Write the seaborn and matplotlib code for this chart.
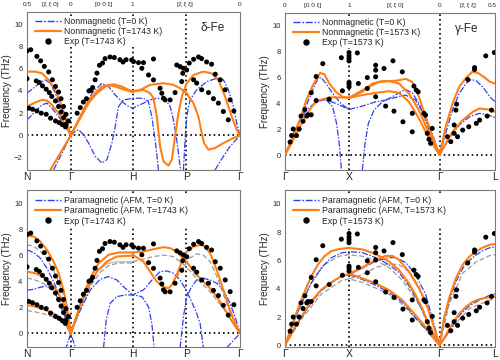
import matplotlib
matplotlib.use("Agg")
import matplotlib.pyplot as plt
from matplotlib.lines import Line2D
import seaborn as sns

# ---------------- path (high-symmetry) positions ----------------
bcc_pos = [0.0, 0.707, 1.707, 2.573, 3.439]
bcc_lab = ["N", "Γ", "H", "P", "Γ"]
bcc_top_pos = [0.0, 0.376, 0.707, 1.236, 1.707, 2.55, 3.439]
bcc_top_lab = ["0.5", "[ξ ξ 0]", "0", "[0 0 ξ]", "1", "[ξ ξ ξ]", "0"]
fcc_pos = [0.0, 1.0, 2.414, 3.28]
fcc_lab = ["Γ", "X", "Γ", "L"]
fcc_top_pos = [0.0, 0.436, 1.0, 1.728, 2.414, 2.855, 3.24]
fcc_top_lab = ["0", "[0 0 ξ]", "1", "[ξ ξ 0]", "0", "[ξ ξ ξ]", "0.5"]

# ---------------- experimental points ----------------
del_exp = [
    (0.0, 7.6), (0.06, 7.7), (0.16, 7.1), (0.22, 6.7), (0.28, 6.2), (0.35, 5.7), (0.41, 5.0),
    (0.46, 4.4), (0.51, 3.9), (0.55, 3.3), (0.59, 2.6), (0.63, 1.9), (0.67, 1.3),
    (0.0, 5.1), (0.15, 4.9), (0.20, 4.75), (0.25, 4.45), (0.31, 4.15), (0.36, 3.85), (0.40, 3.5),
    (0.46, 3.1), (0.51, 2.6), (0.55, 2.1), (0.59, 1.6), (0.63, 1.0),
    (0.03, 2.45), (0.09, 2.35), (0.16, 2.2), (0.23, 2.0), (0.31, 1.9), (0.38, 1.55), (0.46, 1.3),
    (0.52, 1.15), (0.57, 0.97), (0.62, 0.77),
    (0.81, 2.0), (0.86, 2.5), (0.91, 3.0), (0.96, 3.3), (1.00, 4.0), (1.03, 4.05), (1.06, 4.3),
    (1.10, 5.0), (1.13, 5.6), (1.17, 6.3), (1.22, 6.5), (1.26, 6.9), (1.34, 7.05), (1.41, 7.0),
    (1.50, 6.8), (1.55, 6.6), (1.60, 6.8), (1.69, 6.78), (1.72, 6.63),
    (1.80, 6.54), (1.88, 6.54), (1.854, 6.03), (2.042, 6.87), (1.962, 5.43), (2.042, 4.99),
    (2.149, 4.24), (2.177, 3.79), (2.203, 3.34), (2.23, 3.19), (2.311, 3.19), (2.391, 3.85),
    (2.418, 6.33), (2.472, 6.18), (2.499, 4.84), (2.515, 5.58), (2.526, 6.03), (2.579, 5.88),
    (2.62, 6.5), (2.69, 6.84), (2.77, 7.05), (2.82, 6.9), (2.90, 6.6), (2.98, 6.4),
    (3.04, 5.5), (3.12, 5.0), (3.20, 4.1), (3.28, 3.2), (3.34, 2.2),
    (2.69, 5.0), (2.74, 4.7), (2.82, 4.1), (2.93, 3.85), (3.01, 3.3), (3.09, 2.9), (3.17, 2.15),
    (3.25, 1.4),
]
gam_exp = [
    (0.08, 1.0), (0.103, 1.5), (0.128, 2.0), (0.179, 1.5), (0.221, 2.0), (0.25, 3.0), (0.282, 2.6),
    (0.31, 3.5), (0.34, 3.0), (0.36, 3.1), (0.41, 4.8), (0.41, 3.1), (0.487, 6.05), (0.487, 4.2),
    (0.59, 7.04), (0.69, 4.3), (0.88, 7.5), (0.897, 4.95), (1.0, 7.9), (1.0, 7.65), (1.0, 7.45),
    (1.0, 7.25), (1.0, 5.6), (1.0, 5.45), (1.0, 5.25), (1.13, 7.87), (1.146, 5.51), (1.286, 5.97),
    (1.286, 5.13), (1.416, 6.92), (1.416, 6.54), (1.416, 6.03), (1.416, 4.49), (1.546, 6.67),
    (1.572, 3.77), (1.686, 7.26), (1.702, 3.38), (1.832, 6.41), (1.842, 2.56), (1.988, 3.21),
    (1.988, 1.79), (2.014, 5.31), (2.05, 5.0), (2.08, 4.87), (2.17, 3.21), (2.196, 3.08),
    (2.222, 1.67), (2.248, 1.21), (2.274, 0.90), (2.30, 2.05), (2.536, 1.41), (2.589, 1.03),
    (2.642, 1.67), (2.642, 2.31), (2.669, 3.46), (2.68, 3.92), (2.695, 1.41), (2.775, 1.92),
    (2.855, 5.82), (2.87, 2.18), (2.961, 6.74), (2.961, 6.59), (2.988, 2.44), (3.04, 2.69),
    (3.136, 7.64), (3.157, 3.0), (3.226, 3.46), (3.27, 7.90),
]

# ---------------- top-left: delta-Fe nonmagnetic ----------------
tl_org_1 = [(0, 5.73), (0.134, 5.73), (0.242, 5.58), (0.349, 4.99), (0.457, 4.09), (0.564, 2.60), (0.645, 1.25), (0.707, 0)]
tl_org_2 = [(0, 2.6), (0.134, 2.96), (0.242, 3.19), (0.322, 3.13), (0.403, 2.75), (0.51, 2.0), (0.618, 0.96), (0.707, 0)]
tl_org_3 = [(0.376, -3.1), (0.707, 0)]
tl_org_4 = [(0.707, 0), (0.833, 1.40), (0.94, 2.60), (1.048, 3.49), (1.209, 4.39), (1.317, 4.54), (1.424, 4.39), (1.585, 4.09), (1.707, 3.9)]
tl_org_5 = [(0.707, 0), (0.86, 1.55), (0.994, 2.9), (1.128, 3.79), (1.263, 4.39), (1.397, 4.6), (1.531, 4.39), (1.707, 3.94)]
tl_org_6 = [(1.707, 3.94), (1.827, 4.09), (1.988, 4.54), (2.203, 4.69), (2.364, 4.54), (2.472, 4.24), (2.579, 3.79), (2.687, 2.90),
            (2.767, 1.70), (2.821, 0.21), (2.859, -0.69), (2.929, -1.28), (3.036, -1.13), (3.171, -0.69), (3.332, -0.24), (3.439, 0)]
tl_org_7 = [(1.707, 3.94), (1.88, 4.09), (1.988, 3.79), (2.042, 3.34), (2.096, 1.70), (2.149, -0.99), (2.203, -2.33), (2.284, -2.72),
            (2.338, -2.18), (2.391, -0.09), (2.445, 2.0), (2.499, 3.49), (2.579, 4.69), (2.687, 5.43), (2.848, 5.73), (2.982, 5.58),
            (3.090, 4.99), (3.198, 3.49), (3.305, 1.70), (3.386, 0.51), (3.439, 0)]
tl_blu_1 = [(0, 3.79), (0.134, 4.39), (0.242, 4.84), (0.296, 4.99), (0.376, 4.69), (0.457, 3.79), (0.564, 2.30), (0.707, 0)]
tl_blu_2 = [(0, 1.40), (0.134, 2.15), (0.242, 2.75), (0.322, 2.90), (0.403, 2.45), (0.51, 1.70), (0.618, 0.81), (0.707, 0)]
tl_blu_3 = [(0.43, -3.1), (0.707, 0)]
tl_blu_4 = [(0.707, 0), (0.833, 1.40), (0.94, 2.60), (1.048, 3.79), (1.209, 4.69), (1.317, 4.39), (1.424, 3.64), (1.531, 3.04),
            (1.639, 2.60), (1.707, 2.45), (1.88, 2.90), (1.988, 3.19), (2.096, 3.34), (2.203, 3.25), (2.257, 3.04), (2.311, 2.60),
            (2.364, 1.40), (2.418, -0.39), (2.472, -2.78), (2.485, -3.1)]
tl_blu_5 = [(0.707, 0), (0.779, 0.36), (0.833, 0.51), (0.913, 0.06), (0.994, -0.69), (1.102, -1.88), (1.209, -2.48), (1.29, -2.18),
            (1.37, -0.69), (1.424, 0.81), (1.478, 2.60), (1.558, 3.19), (1.719, 3.34), (1.88, 3.34), (1.96, 3.04), (2.015, 1.70),
            (2.069, -0.39), (2.122, -3.1)]
tl_blu_6 = [(2.526, -3.1), (2.552, -0.39), (2.579, 1.70), (2.633, 3.19), (2.74, 4.09), (2.902, 4.84), (3.063, 5.13), (3.171, 4.99),
            (3.251, 4.09), (3.332, 2.60), (3.386, 1.10), (3.439, 0)]
tl_blu_7 = [(3.036, -3.1), (3.171, -1.88), (3.278, -0.99), (3.439, 0)]

# ---------------- top-right: gamma-Fe nonmagnetic ----------------
tr_org_1 = [(0, 0), (0.128, 1.41), (0.231, 2.69), (0.333, 4.23), (0.436, 5.38), (0.549, 6.33), (0.615, 6.23), (0.692, 5.51), (0.795, 4.87), (0.897, 4.49), (1.0, 4.41)]
tr_org_2 = [(0, 0), (0.128, 1.15), (0.231, 2.18), (0.333, 3.08), (0.436, 3.85), (0.538, 4.23), (0.692, 4.44), (0.846, 4.44), (1.0, 4.41)]
tr_org_3 = [(1, 4.41), (1.208, 4.62), (1.416, 4.79), (1.624, 4.92), (1.78, 4.79), (1.936, 4.10), (2.092, 2.82), (2.248, 1.28), (2.414, 0)]
tr_org_4 = [(1, 4.41), (1.208, 4.87), (1.364, 5.51), (1.52, 5.69), (1.728, 5.72), (1.884, 5.87), (1.988, 5.64), (2.092, 4.49), (2.248, 2.18), (2.414, 0)]
tr_org_5 = [(1, 4.41), (1.26, 5.13), (1.468, 5.64), (1.624, 5.69), (1.78, 5.51), (1.936, 4.74), (2.092, 3.46), (2.248, 1.67), (2.414, 0)]
tr_org_6 = [(2.414, 0), (2.51, 2.18), (2.616, 3.97), (2.722, 5.26), (2.828, 5.95), (2.924, 6.41), (3.014, 6.33), (3.12, 5.97), (3.2, 5.64), (3.28, 5.51)]
tr_org_7 = [(2.414, 0), (2.51, 0.9), (2.616, 1.79), (2.775, 2.69), (2.934, 3.33), (3.04, 3.59), (3.173, 3.51), (3.28, 3.33)]
tr_blu_1 = [(0, 0), (0.128, 1.54), (0.282, 3.21), (0.41, 4.74), (0.513, 5.90), (0.564, 5.97), (0.641, 5.51), (0.744, 4.74), (0.872, 3.97), (1.0, 3.51)]
tr_blu_2 = [(0, 0), (0.179, 2.18), (0.333, 3.46), (0.487, 4.10), (0.641, 4.28), (0.795, 3.97), (1.0, 3.51)]
tr_blu_3 = [(0.641, 4.28), (0.744, 3.72), (0.805, 2.44), (0.846, 0.9), (0.882, -1.15)]
tr_blu_4 = [(1.208, -1.15), (1.25, 0.9), (1.302, 2.44), (1.39, 3.46), (1.52, 4.10), (1.676, 4.49), (1.806, 4.87), (1.884, 5.05),
            (1.988, 4.79), (2.092, 3.97), (2.196, 2.69), (2.30, 1.15), (2.414, 0)]
tr_blu_5 = [(1, 3.51), (1.208, 3.77), (1.416, 4.10), (1.572, 4.23), (1.728, 4.44), (1.884, 4.62), (2.04, 4.23), (2.196, 2.95), (2.30, 1.67), (2.414, 0)]
tr_blu_6 = [(2.414, 0), (2.51, 1.67), (2.616, 3.46), (2.722, 4.74), (2.828, 5.51), (2.908, 5.82), (2.987, 5.72), (3.094, 5.21), (3.2, 4.49), (3.28, 4.10)]
tr_blu_7 = [(2.414, 0), (2.563, 1.28), (2.722, 2.31), (2.881, 2.95), (3.04, 3.21), (3.173, 3.08), (3.28, 2.90)]

# ---------------- bottom-left: delta-Fe paramagnetic ----------------
bl_org_1 = [(0, 7.49), (0.107, 7.44), (0.215, 7.05), (0.322, 6.41), (0.43, 5.51), (0.51, 4.62), (0.591, 3.33), (0.645, 2.05), (0.707, 0)]
bl_org_2 = [(0, 4.74), (0.134, 4.62), (0.269, 4.31), (0.403, 3.72), (0.51, 3.08), (0.591, 2.31), (0.661, 1.28), (0.707, 0)]
bl_org_3 = [(0, 2.18), (0.134, 2.05), (0.269, 1.85), (0.403, 1.59), (0.51, 1.28), (0.618, 0.77), (0.707, 0)]
bl_org_4 = [(0.707, 0), (0.833, 1.79), (0.94, 3.33), (1.048, 4.49), (1.155, 5.38), (1.317, 6.03), (1.478, 6.21), (1.707, 6.21)]
bl_org_5 = [(0.707, 0), (0.86, 2.18), (0.994, 3.59), (1.128, 4.74), (1.29, 5.51), (1.451, 5.90), (1.707, 5.97)]
bl_org_6 = [(1.707, 6.21), (1.88, 6.28), (2.042, 6.46), (2.203, 6.62), (2.311, 6.54), (2.418, 6.28), (2.526, 5.77), (2.633, 5.13),
            (2.74, 4.49), (2.848, 3.97), (2.956, 3.46), (3.063, 2.82), (3.171, 2.05), (3.278, 1.15), (3.386, 0.38), (3.439, 0)]
bl_org_7 = [(1.707, 6.03), (1.88, 5.51), (1.988, 4.74), (2.096, 3.97), (2.203, 3.59), (2.284, 3.46), (2.338, 3.72), (2.418, 4.49),
            (2.499, 5.51), (2.579, 6.28), (2.687, 6.67), (2.794, 6.79), (2.875, 6.67), (2.956, 6.15), (3.063, 4.87), (3.171, 3.33),
            (3.278, 1.79), (3.386, 0.51), (3.439, 0)]
bl_blu_1 = [(0, 6.41), (0.107, 6.21), (0.215, 5.77), (0.322, 5.0), (0.43, 3.97), (0.537, 2.69), (0.645, 1.03), (0.707, 0)]
bl_blu_2 = [(0, 3.31), (0.107, 3.38), (0.215, 3.54), (0.322, 3.64), (0.403, 3.46), (0.484, 2.82), (0.591, 1.54), (0.707, 0)]
bl_blu_3 = [(0.618, -1.3), (0.707, 0), (0.795, -1.3)]
bl_blu_4 = [(0.707, 0), (0.86, 1.79), (1.021, 3.33), (1.182, 4.15), (1.317, 4.36), (1.451, 4.10), (1.585, 3.46), (1.707, 2.95),
            (1.88, 3.33), (2.042, 4.23), (2.149, 4.74), (2.257, 4.79), (2.364, 4.62), (2.472, 4.10), (2.552, 3.46), (2.633, 2.69),
            (2.74, 1.54), (2.794, 0.77), (2.848, -1.1)]
bl_blu_5 = [(1.236, -1.1), (1.279, 1.03), (1.343, 2.31), (1.451, 2.82), (1.585, 2.95), (1.719, 2.95), (1.854, 2.82), (1.961, 2.05), (2.015, 0.77), (2.053, -1.1)]
bl_blu_6 = [(2.472, -1.1), (2.526, 1.28), (2.579, 2.82), (2.66, 3.59), (2.74, 4.10), (2.848, 4.23), (2.956, 4.10), (3.063, 3.85),
            (3.171, 3.33), (3.278, 2.31), (3.359, 1.28), (3.439, 0)]
bl_blu_7 = [(3.225, -1.1), (3.439, 0)]
bl_gry_1 = [(0, 6.8), (0.107, 6.7), (0.215, 6.3), (0.322, 5.7), (0.43, 4.8), (0.51, 4.0), (0.591, 2.9), (0.645, 1.8), (0.707, 0)]
bl_gry_2 = [(0, 4.25), (0.134, 4.1), (0.269, 3.8), (0.403, 3.3), (0.51, 2.7), (0.591, 2.0), (0.661, 1.1), (0.707, 0)]
bl_gry_3 = [(0, 1.75), (0.134, 1.65), (0.269, 1.5), (0.403, 1.3), (0.51, 1.05), (0.618, 0.6), (0.707, 0)]
bl_gry_4 = [(0.707, 0), (0.86, 1.9), (1.021, 3.6), (1.182, 4.7), (1.317, 5.2), (1.478, 5.4), (1.707, 5.4)]
bl_gry_5 = [(1.707, 5.5), (1.88, 5.7), (2.042, 5.9), (2.203, 6.0), (2.364, 5.9), (2.526, 5.3), (2.633, 4.8), (2.74, 4.2), (2.956, 3.2), (3.171, 1.9), (3.386, 0.4), (3.439, 0)]
bl_gry_6 = [(2.418, 4.3), (2.526, 5.1), (2.633, 5.8), (2.74, 6.1), (2.848, 6.0), (2.956, 5.5), (3.063, 4.4), (3.171, 3.0), (3.278, 1.6), (3.439, 0)]
bl_lgr_1 = [(0.707, 0), (0.833, 1.6), (0.94, 3.0), (1.048, 4.1), (1.155, 4.9), (1.317, 5.4), (1.478, 5.5), (1.707, 5.5)]

# ---------------- bottom-right: gamma-Fe paramagnetic ----------------
br_org_1 = [(0, 0), (0.103, 1.32), (0.205, 2.62), (0.308, 3.81), (0.41, 4.87), (0.513, 5.70), (0.615, 6.29), (0.718, 6.64), (0.846, 6.81),
            (1.0, 6.88), (1.208, 6.78), (1.416, 6.45), (1.624, 5.92), (1.78, 5.33), (1.936, 4.38), (2.04, 3.55), (2.144, 2.61),
            (2.248, 1.42), (2.352, 0.47), (2.414, 0)]
br_org_2 = [(0, 0), (0.128, 1.09), (0.256, 2.03), (0.41, 3.10), (0.564, 3.92), (0.718, 4.44), (0.872, 4.87), (1.0, 5.06), (1.208, 4.74),
            (1.416, 4.38), (1.624, 3.91), (1.832, 3.20), (2.04, 2.13), (2.196, 1.30), (2.352, 0.36), (2.414, 0)]
br_org_3 = [(1.0, 5.06), (1.208, 5.50), (1.416, 6.04), (1.572, 6.32), (1.676, 6.32), (1.78, 6.04), (1.936, 5.21), (2.092, 4.03), (2.196, 3.08), (2.30, 1.66), (2.414, 0)]
br_org_4 = [(2.414, 0), (2.483, 1.90), (2.563, 3.32), (2.669, 4.74), (2.775, 5.69), (2.881, 6.28), (2.987, 6.64), (3.094, 6.92), (3.20, 7.11), (3.28, 7.15)]
br_org_5 = [(2.414, 0), (2.51, 0.71), (2.616, 1.54), (2.722, 2.25), (2.828, 2.73), (2.934, 3.08), (3.04, 3.27), (3.146, 3.36), (3.28, 3.44)]
br_blu_1 = [(0, 0), (0.128, 1.56), (0.256, 2.98), (0.41, 4.40), (0.564, 5.46), (0.718, 6.17), (0.872, 6.52), (1.0, 6.62), (1.208, 6.55),
            (1.416, 6.2), (1.624, 5.7), (1.78, 5.15), (1.936, 4.2), (2.04, 3.4), (2.144, 2.45), (2.248, 1.3), (2.352, 0.35), (2.414, 0)]
br_blu_2 = [(0, 0), (0.128, 1.0), (0.256, 1.95), (0.41, 3.0), (0.564, 3.85), (0.718, 4.4), (0.872, 4.85), (1.0, 5.0), (1.208, 4.65),
            (1.416, 4.25), (1.624, 3.75), (1.832, 3.05), (2.04, 1.95), (2.196, 1.15), (2.352, 0.3), (2.414, 0)]
br_blu_3 = [(1.0, 5.0), (1.208, 5.45), (1.416, 5.95), (1.624, 6.2), (1.728, 6.2), (1.884, 5.85), (2.04, 5.0), (2.196, 3.6), (2.326, 1.5), (2.414, 0)]
br_blu_4 = [(2.414, 0), (2.483, 1.75), (2.563, 3.1), (2.669, 4.5), (2.775, 5.45), (2.881, 6.0), (2.987, 6.4), (3.094, 6.7), (3.20, 6.9), (3.28, 6.95)]
br_blu_5 = [(2.414, 0), (2.51, 0.6), (2.616, 1.4), (2.722, 2.1), (2.881, 2.8), (3.04, 3.2), (3.2, 3.55), (3.28, 3.65)]
br_gry_1 = [(0, 0), (0.205, 2.4), (0.41, 4.4), (0.615, 5.7), (0.846, 6.3), (1.0, 6.4), (1.208, 6.3), (1.416, 6.0), (1.624, 5.5), (1.832, 4.6), (2.04, 3.3), (2.248, 1.6), (2.414, 0)]
br_gry_2 = [(0, 0), (0.256, 1.85), (0.564, 3.6), (0.872, 4.55), (1.0, 4.7), (1.208, 4.45), (1.416, 4.05), (1.624, 3.6), (1.832, 2.9), (2.04, 1.9), (2.248, 0.9), (2.414, 0)]
br_gry_3 = [(1.0, 4.7), (1.208, 5.0), (1.416, 5.5), (1.624, 5.75), (1.78, 5.7), (1.936, 5.2), (2.09, 4.2), (2.25, 2.5), (2.414, 0)]
br_gry_4 = [(2.414, 0), (2.563, 2.9), (2.775, 5.1), (2.987, 5.9), (3.2, 6.35), (3.28, 6.4)]
br_gry_5 = [(2.414, 0), (2.616, 1.3), (2.881, 2.6), (3.2, 3.2), (3.28, 3.3)]

# ---------------- styling ----------------
sns.set_style("white")
plt.rcParams["font.family"] = ["Liberation Sans", "DejaVu Sans"]

BLUE = "#2f3fe8"
ORANGE = "#ff7f14"
GRAY = "#9a9a9a"
LGRAY = "#bdbdbd"
DASHDOT = (0, (5, 1.3, 1.2, 1.3))
DOT = (0, (1, 1.8))

fig = plt.figure(figsize=(5.0, 3.6), dpi=100)
ax_tl = fig.add_axes([0.054, 0.528, 0.426, 0.439])
ax_tr = fig.add_axes([0.570, 0.528, 0.420, 0.436])
ax_bl = fig.add_axes([0.054, 0.036, 0.426, 0.436])
ax_br = fig.add_axes([0.570, 0.036, 0.420, 0.436])


def draw(ax, pts, color, ls, lw, z=2):
    xs = [p[0] for p in pts]
    ys = [p[1] for p in pts]
    sns.lineplot(x=xs, y=ys, ax=ax, sort=False, estimator=None, color=color,
                 linestyle=ls, linewidth=lw, zorder=z)


def dots(ax, pts):
    xs = [p[0] for p in pts]
    ys = [p[1] for p in pts]
    sns.scatterplot(x=xs, y=ys, ax=ax, color="black", s=13, edgecolor="none", zorder=6)


def frame(ax, xmax, ylim, sym_pos, sym_lab, inner):
    ax.set_xlim(0, xmax)
    ax.set_ylim(*ylim)
    for v in inner:
        ax.axvline(v, color="black", ls=DOT, lw=1.2, zorder=1)
    ax.axhline(0, color="black", ls=DOT, lw=1.2, zorder=1)
    ax.set_xticks(sym_pos)
    ax.set_xticklabels(sym_lab)
    ax.tick_params(axis="x", length=0, pad=1.5, labelsize=7.5)
    yt = [t for t in range(-2, 11, 2) if ylim[0] <= t <= ylim[1]]
    ax.set_yticks(yt)
    ax.tick_params(axis="y", length=2, width=0.6, direction="out", pad=1.2, labelsize=5.5, color="#555555")
    ax.set_ylabel("Frequency (THz)", fontsize=7, labelpad=1.5)
    ax.set_xlabel("")
    for s in ax.spines.values():
        s.set_color("#7a7a7a")
        s.set_linewidth(0.8)


def top_labels(ax, pos, lab):
    tr = ax.get_xaxis_transform()
    for p, l in zip(pos, lab):
        ax.text(p, 1.045, l, transform=tr, ha="center", va="center", fontsize=4.6)


def legend(ax, lab_blue, lab_org, lab_exp, y):
    h = [Line2D([], [], color=BLUE, ls=DASHDOT, lw=1.0),
         Line2D([], [], color=ORANGE, lw=1.6),
         Line2D([], [], color="black", marker="o", ls="none", ms=3.6)]
    lg = ax.legend(h, [lab_blue, lab_org, lab_exp], loc="upper left", bbox_to_anchor=(0.035, y),
                   frameon=True, fontsize=6.3, handlelength=2.9, handletextpad=0.35,
                   labelspacing=0.12, borderpad=0.1, borderaxespad=0, fancybox=False)
    lg.get_frame().set_facecolor("white")
    lg.get_frame().set_edgecolor("none")
    lg.get_frame().set_alpha(1.0)
    lg.set_zorder(10)


# top-left
for c in [tl_blu_1, tl_blu_2, tl_blu_3, tl_blu_4, tl_blu_5, tl_blu_6, tl_blu_7]:
    draw(ax_tl, c, BLUE, DASHDOT, 0.9)
for c in [tl_org_1, tl_org_2, tl_org_3, tl_org_4, tl_org_5, tl_org_6, tl_org_7]:
    draw(ax_tl, c, ORANGE, "-", 1.5, 3)
dots(ax_tl, del_exp)
frame(ax_tl, 3.439, (-3.1, 11.1), bcc_pos, bcc_lab, bcc_pos[1:4])
top_labels(ax_tl, bcc_top_pos, bcc_top_lab)
legend(ax_tl, "Nonmagnetic (T=0 K)", "Nonmagnetic (T=1743 K)", "Exp (T=1743 K)", 0.975)
ax_tl.text(0.87, 0.895, "δ-Fe", transform=ax_tl.transAxes, ha="center", va="center", fontsize=8.5,
           bbox=dict(facecolor="white", edgecolor="none", pad=0.5), zorder=10)

# top-right
for c in [tr_blu_1, tr_blu_2, tr_blu_3, tr_blu_4, tr_blu_5, tr_blu_6, tr_blu_7]:
    draw(ax_tr, c, BLUE, DASHDOT, 0.9)
for c in [tr_org_1, tr_org_2, tr_org_3, tr_org_4, tr_org_5, tr_org_6, tr_org_7]:
    draw(ax_tr, c, ORANGE, "-", 1.5, 3)
dots(ax_tr, gam_exp)
frame(ax_tr, 3.28, (-1.15, 10.95), fcc_pos, fcc_lab, fcc_pos[1:3])
top_labels(ax_tr, fcc_top_pos, fcc_top_lab)
legend(ax_tr, "Nonmagnetic (T=0 K)", "Nonmagnetic (T=1573 K)", "Exp (T=1573 K)", 0.975)
ax_tr.text(0.867, 0.9, "γ-Fe", transform=ax_tr.transAxes, ha="center", va="center", fontsize=8.5)

# bottom-left
for c in [bl_lgr_1]:
    draw(ax_bl, c, LGRAY, "-", 1.0)
for c in [bl_gry_1, bl_gry_2, bl_gry_3, bl_gry_4, bl_gry_5, bl_gry_6]:
    draw(ax_bl, c, GRAY, (0, (4, 2)), 0.9)
for c in [bl_blu_1, bl_blu_2, bl_blu_3, bl_blu_4, bl_blu_5, bl_blu_6, bl_blu_7]:
    draw(ax_bl, c, BLUE, DASHDOT, 0.9)
for c in [bl_org_1, bl_org_2, bl_org_3, bl_org_4, bl_org_5, bl_org_6, bl_org_7]:
    draw(ax_bl, c, ORANGE, "-", 1.5, 3)
dots(ax_bl, del_exp)
frame(ax_bl, 3.439, (-1.05, 11.0), bcc_pos, bcc_lab, bcc_pos[1:4])
legend(ax_bl, "Paramagnetic (AFM, T=0 K)", "Paramagnetic (AFM, T=1743 K)", "Exp (T=1743 K)", 0.965)

# bottom-right
for c in [br_gry_1, br_gry_2, br_gry_3, br_gry_4, br_gry_5]:
    draw(ax_br, c, GRAY, (0, (4, 2)), 0.9)
for c in [br_blu_1, br_blu_2, br_blu_3, br_blu_4, br_blu_5]:
    draw(ax_br, c, BLUE, DASHDOT, 0.9)
for c in [br_org_1, br_org_2, br_org_3, br_org_4, br_org_5]:
    draw(ax_br, c, ORANGE, "-", 1.5, 3)
dots(ax_br, gam_exp)
frame(ax_br, 3.28, (-0.12, 10.97), fcc_pos, fcc_lab, fcc_pos[1:3])
legend(ax_br, "Paramagnetic (AFM, T=0 K)", "Paramagnetic (AFM, T=1573 K)", "Exp (T=1573 K)", 0.965)

fig.savefig("out.png", dpi=100)
